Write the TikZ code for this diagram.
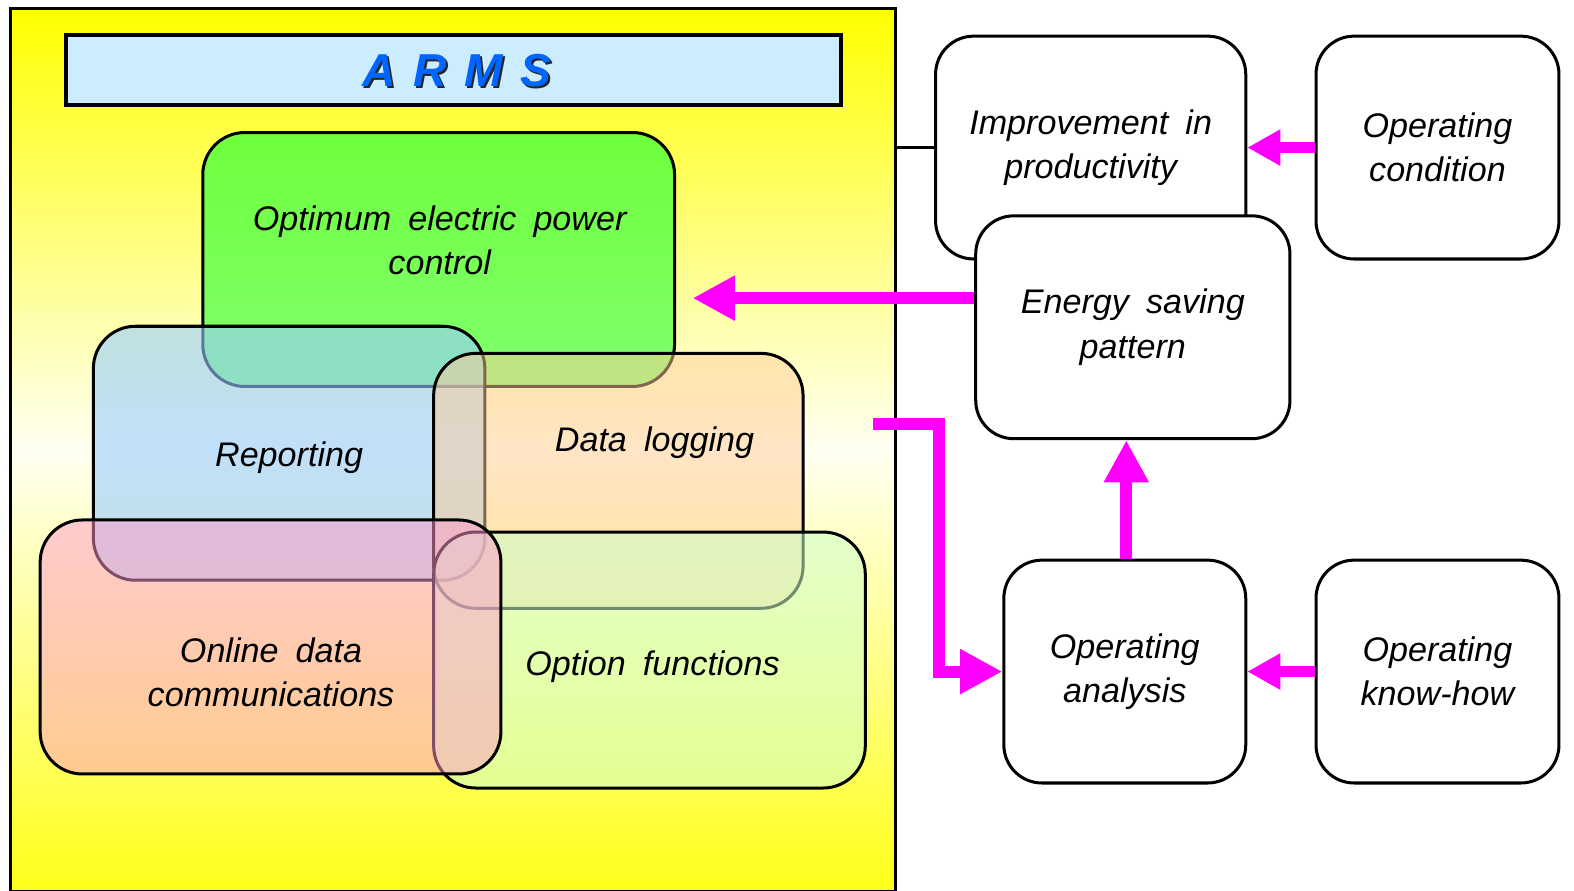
\documentclass[tikz,border=0pt]{standalone}
\usepackage{fontspec}
\setmainfont{Liberation Sans}
\usetikzlibrary{arrows.meta}
\definecolor{mag}{RGB}{255,0,255}
\definecolor{ylw}{RGB}{255,255,0}
\definecolor{ylwb}{RGB}{255,255,25}
\definecolor{ylwmid}{RGB}{255,255,242}
\definecolor{bannerblue}{RGB}{204,236,255}
\definecolor{armsblue}{RGB}{0,102,255}
\definecolor{grntop}{RGB}{110,255,60}
\definecolor{grnbot}{RGB}{128,255,110}
\definecolor{repblue}{RGB}{153,204,255}
\definecolor{logorange}{RGB}{255,204,153}
\definecolor{optgreen}{RGB}{204,255,204}
\definecolor{onlpink}{RGB}{255,153,204}
\newcommand\myWideSpace{\spaceskip=0.5em\relax}
\newcommand\myTitleSpace{\spaceskip=0.38em\relax}
\begin{document}
\begin{tikzpicture}[x=1pt,y=-1pt,
  lbl/.style={font=\fontsize{34}{44}\selectfont\itshape\myWideSpace, align=center, inner sep=0pt},
  vbox/.style={draw=black, line width=3pt, rounded corners=42pt, inner sep=0pt},
  rbox/.style={draw=black, fill=white, line width=3pt, rounded corners=38pt, inner sep=0pt,
     minimum height=222pt, align=center, font=\fontsize{34}{44}\selectfont\itshape\myWideSpace},
  ttl/.style={font=\fontsize{46}{50}\selectfont\bfseries\itshape\myTitleSpace, inner sep=0pt},
  marrow/.style={draw=mag, line width=12pt, -{Triangle[length=42pt,width=42pt]}},
  marrowsmall/.style={draw=mag, line width=11pt, -{Triangle[length=33pt,width=34pt]}}
]
\useasboundingbox (0,0) rectangle (1568,887);
% ARMS frame
\node[draw=black, line width=3pt, top color=ylw, bottom color=ylwb, middle color=ylwmid,
      minimum width=882pt, minimum height=880pt, inner sep=0pt] (arms) at (451,448) {};
\node[draw=black, line width=4pt, fill=bannerblue, minimum width=772pt, minimum height=70pt, inner sep=0pt] (banner) at (452,70) {};
\node[ttl, text=black!85] (armsshadow) at (457,72) {A R M S};
\node[ttl, text=armsblue] (armstitle) at (455,70) {A R M S};
% function boxes
\node[vbox, top color=grntop, bottom color=grnbot, minimum width=470pt, minimum height=253pt] (optbox) at (437,258.5) {};
\node[vbox, fill=repblue, fill opacity=0.6, minimum width=390pt, minimum height=253pt] (repbox) at (288,451.5) {};
\node[vbox, fill=logorange, fill opacity=0.5, minimum width=368pt, minimum height=254pt] (logbox) at (616,479) {};
\node[vbox, fill=optgreen, fill opacity=0.55, minimum width=430pt, minimum height=255pt] (optfbox) at (647,657.5) {};
\node[vbox, fill=onlpink, fill opacity=0.5, minimum width=459pt, minimum height=253pt] (onlbox) at (269.5,644.5) {};
\node[lbl] (opttxt) at (438,239) {Optimum electric power\\control};
\node[lbl] (reptxt) at (288,456) {Reporting};
\node[lbl] (logtxt) at (652,441) {Data logging};
\node[lbl] (optftxt) at (650,664) {Option functions};
\node[lbl] (onltxt) at (270,670) {Online data\\communications};
% right side
\node[rbox, minimum width=309pt] (improve) at (1086.5,147) {Improvement in\\productivity};
\node[rbox, minimum width=313pt] (energy) at (1128.5,326) {Energy saving\\pattern};
\node[rbox, minimum width=242pt] (cond) at (1432,147) {Operating\\condition};
\node[rbox, minimum width=241pt] (opanal) at (1120.5,669) {Operating\\analysis};
\node[rbox, minimum width=242pt] (knowhow) at (1432,669) {Operating\\know-how};
% connectors
\draw[line width=3pt] (improve.west) -- (improve.west -| arms.east);
\coordinate (ea) at (690,297);
\draw[marrow] (energy.west |- ea) -- (ea);
\coordinate (es) at (870,422);
\draw[marrow] (es) -- ++(65,0) |- (opanal.west);
\draw[marrow] (opanal.north -| 1122,0) -- (energy.south -| 1122,0);
\draw[marrowsmall] (cond.west) -- (improve.east |- cond.west);
\draw[marrowsmall] (knowhow.west) -- (opanal.east);
\end{tikzpicture}
\end{document}
